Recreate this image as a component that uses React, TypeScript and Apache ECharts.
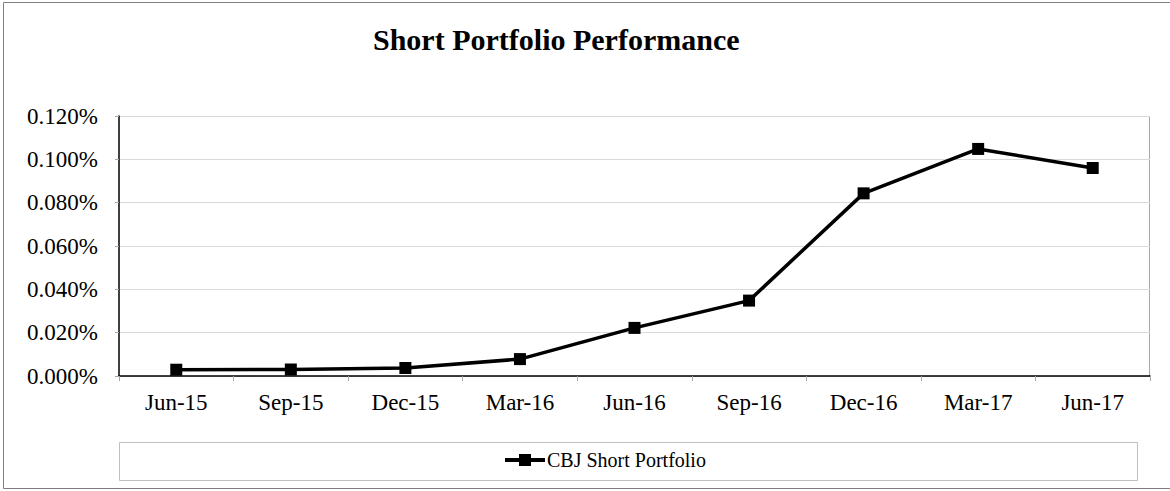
import React, { useEffect, useRef } from "react";
import * as echarts from "echarts";

const categories = ["Jun-15", "Sep-15", "Dec-15", "Mar-16", "Jun-16", "Sep-16", "Dec-16", "Mar-17", "Jun-17"];
const shortPortfolio = [0.0029, 0.003, 0.0037, 0.0078, 0.0222, 0.0348, 0.0843, 0.1048, 0.096];
const seriesName = "CBJ Short Portfolio";
const titleText = "Short Portfolio Performance";

const FONT = '"Liberation Serif", "Times New Roman", serif';

export default function App() {
  const ref = useRef<HTMLDivElement>(null);
  useEffect(() => {
    if (!ref.current) return;
    const chart = echarts.init(ref.current, null, { renderer: "svg" });
    chart.setOption({
      animation: false,
      backgroundColor: "#ffffff",
      textStyle: { fontFamily: FONT },
      title: {
        text: titleText,
        left: 373,
        top: 24,
        padding: 0,
        textStyle: { fontFamily: FONT, fontSize: 30, fontWeight: "bold", color: "#000" },
      },
      graphic: [
        {
          type: "rect",
          shape: { x: 3.5, y: 2.5, width: 1180, height: 486 },
          style: { fill: "none", stroke: "#7f7f7f", lineWidth: 1 },
          silent: true,
        },
        {
          type: "rect",
          shape: { x: 119.5, y: 442.5, width: 1018, height: 38 },
          style: { fill: "none", stroke: "#bfbfbf", lineWidth: 1 },
          silent: true,
        },
        {
          type: "line",
          shape: { x1: 119, y1: 116.5, x2: 1150, y2: 116.5 },
          style: { stroke: "#a6a6a6", lineWidth: 1 },
          silent: true,
        },
        {
          type: "line",
          shape: { x1: 1149.5, y1: 116, x2: 1149.5, y2: 376 },
          style: { stroke: "#a6a6a6", lineWidth: 1 },
          silent: true,
        },
      ],
      legend: {
        left: 503,
        top: 450,
        padding: 0,
        itemWidth: 40,
        itemHeight: 15,
        itemGap: 4,
        data: [seriesName],
        lineStyle: { width: 4, color: "#000" },
        itemStyle: { color: "#000" },
        textStyle: { fontFamily: FONT, fontSize: 20, color: "#000", padding: [0, 0, 0, -3] },
      },
      grid: { left: 119, right: 20, top: 116, bottom: 115, containLabel: false },
      xAxis: {
        type: "category",
        data: categories,
        boundaryGap: true,
        axisLine: { lineStyle: { color: "#000", width: 1.5 } },
        axisTick: { show: true, length: 5, lineStyle: { color: "#a6a6a6" } },
        axisLabel: { fontFamily: FONT, fontSize: 23, color: "#000", margin: 15 },
        splitLine: { show: false },
      },
      yAxis: {
        type: "value",
        min: 0,
        max: 0.12,
        interval: 0.02,
        axisLine: { show: true, lineStyle: { color: "#000", width: 1.5 } },
        axisTick: { show: true, length: 4, lineStyle: { color: "#a6a6a6" } },
        axisLabel: {
          fontFamily: FONT,
          fontSize: 23,
          color: "#000",
          margin: 21,
          formatter: (v: number) => v.toFixed(3) + "%",
        },
        splitLine: { show: true, lineStyle: { color: "#d9d9d9", width: 1 } },
      },
      series: [
        {
          name: seriesName,
          type: "line",
          data: shortPortfolio,
          symbol: "rect",
          symbolSize: 12,
          lineStyle: { color: "#000", width: 3.5 },
          itemStyle: { color: "#000" },
        },
      ],
    });
    return () => chart.dispose();
  }, []);
  return (
    <div
      ref={ref}
      style={{ position: "fixed", left: 0, top: 0, width: 1170, height: 491 }}
    />
  );
}
